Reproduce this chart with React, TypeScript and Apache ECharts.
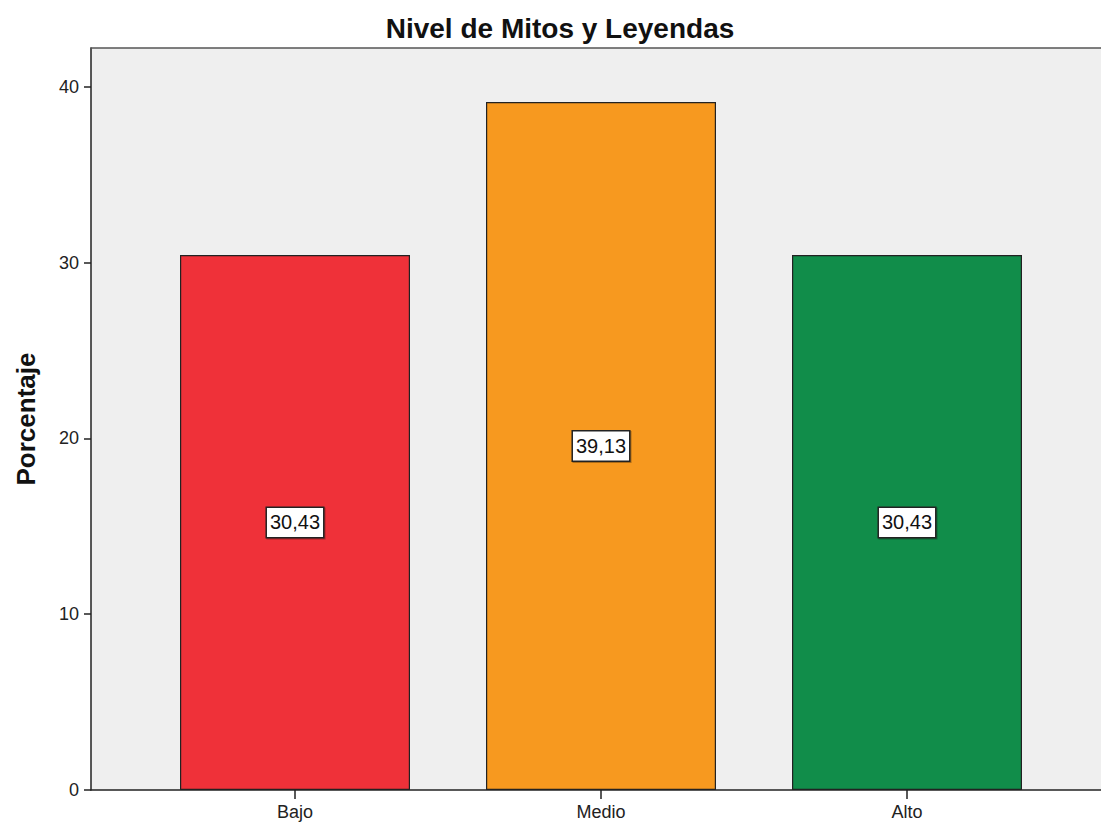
import React, { useEffect, useRef } from "react";
import * as echarts from "echarts";

const categories = ["Bajo", "Medio", "Alto"];
const values = [30.43, 39.13, 30.43];
const labels = ["30,43", "39,13", "30,43"];
const colors = ["#ef3139", "#f7991f", "#118d4a"];
const yTicks = [0, 10, 20, 30, 40];

const FONT = "Liberation Sans, Arial, sans-serif";

export default function App() {
  const ref = useRef<HTMLDivElement>(null);
  useEffect(() => {
    const chart = echarts.init(ref.current!, null, { renderer: "svg" });
    chart.setOption({
      animation: false,
      backgroundColor: "#ffffff",
      title: {
        text: "Nivel de Mitos y Leyendas",
        left: 555,
        textAlign: "center",
        top: 9,
        textStyle: { fontFamily: FONT, fontSize: 28, fontWeight: "bold", color: "#111" },
      },
      grid: {
        left: 91,
        top: 48,
        width: 1122,
        height: 742,
        outerBoundsMode: "none",
        containLabel: false,
        show: true,
        backgroundColor: "#efefef",
        borderWidth: 0,
      },
      xAxis: [
        {
          type: "value",
          min: -2 / 3,
          max: 3,
          splitLine: { show: false },
          axisLine: { show: true, onZero: false, lineStyle: { color: "#222", width: 1.5 } },
          axisTick: { show: true, length: 9, customValues: [0, 1, 2], lineStyle: { color: "#222", width: 1.5 } },
          axisLabel: {
            customValues: [0, 1, 2],
            formatter: (v: number) => categories[Math.round(v)] ?? "",
            fontFamily: FONT,
            fontSize: 18,
            color: "#222",
            margin: 13,
          },
        },
        {
          type: "value",
          position: "top",
          min: -2 / 3,
          max: 3,
          splitLine: { show: false },
          axisLine: { show: true, onZero: false, lineStyle: { color: "#555", width: 1.5 } },
          axisTick: { show: false },
          axisLabel: { show: false },
        },
      ],
      yAxis: {
        type: "value",
        min: 0,
        max: 42.2,
        name: "Porcentaje",
        nameLocation: "middle",
        nameGap: 52,
        nameTextStyle: { fontFamily: FONT, fontSize: 26, fontWeight: "bold", color: "#111" },
        splitLine: { show: false },
        axisLine: { show: true, onZero: false, lineStyle: { color: "#222", width: 1.5 } },
        axisTick: { show: true, length: 7, customValues: yTicks, lineStyle: { color: "#222", width: 1.5 } },
        axisLabel: {
          customValues: yTicks,
          fontFamily: FONT,
          fontSize: 18,
          color: "#222",
          margin: 12,
        },
      },
      series: [
        {
          type: "bar",
          xAxisIndex: 0,
          barWidth: 230,
          data: values.map((v, i) => ({
            value: [i, v],
            itemStyle: { color: colors[i], borderColor: "#222", borderWidth: 1.2 },
            label: { formatter: labels[i] },
          })),
          label: {
            show: true,
            position: "inside",
            backgroundColor: "#ffffff",
            borderColor: "#222",
            borderWidth: 1.5,
            padding: [5, 3, 4, 3],
            color: "#111",
            fontFamily: FONT,
            fontSize: 20,
            shadowColor: "rgba(0,0,0,0.3)",
            shadowOffsetX: 1,
            shadowOffsetY: 1,
            shadowBlur: 1,
          },
        },
      ],
    });
    return () => chart.dispose();
  }, []);
  return <div ref={ref} style={{ position: "fixed", left: 0, top: 0, width: 1101, height: 825 }} />;
}
